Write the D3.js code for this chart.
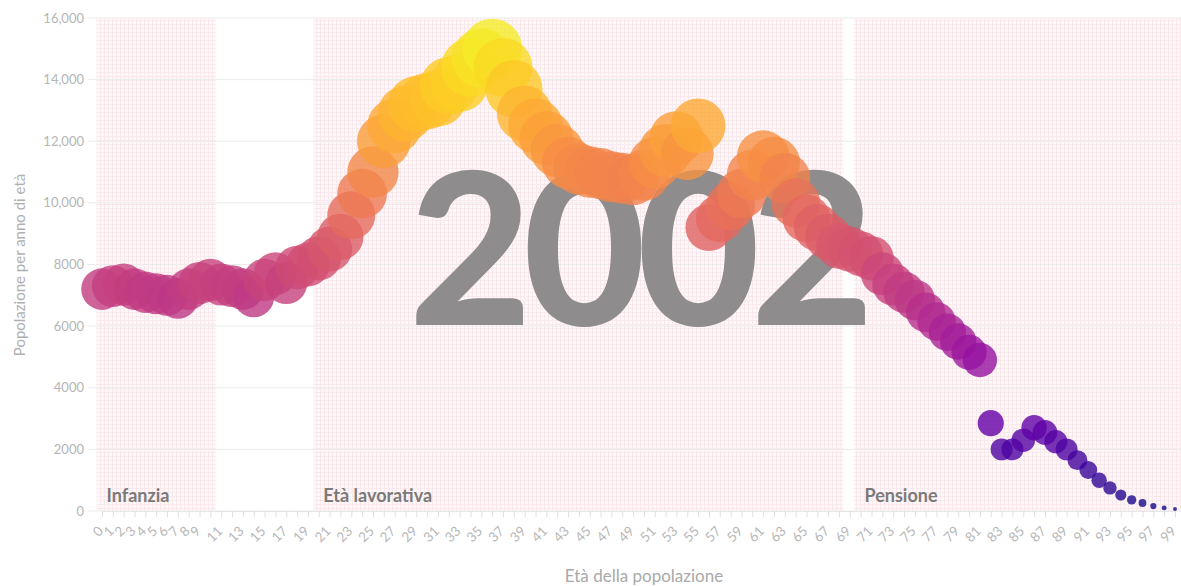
<!DOCTYPE html>
<html>
<head>
<meta charset="utf-8">
<script src="https://cdn.jsdelivr.net/npm/d3@7"></script>
<style>
  html, body { margin: 0; padding: 0; background: #fff; }
  svg { display: block; font-family: Lato, "Open Sans", sans-serif; }
</style>
</head>
<body>
<svg id="chart" width="1181" height="586"></svg>
<script>
// ---- data ----
const ages = d3.range(0, 100);
const population = [
  7200, 7300, 7350, 7200, 7100, 7050, 7000, 6900, 7200, 7400,
  7500, 7350, 7300, 7200, 6950, 7500, 7700, 7400, 7900, 8000,
  8200, 8500, 8900, 9600, 10300, 11000, 12000, 12500, 12900, 13200,
  13300, 13400, 13800, 13900, 14400, 14700, 15000, 14400, 13700, 12900,
  12500, 12100, 11700, 11300, 11100, 11000, 10950, 10850, 10800, 10750,
  10900, 11300, 11700, 12100, 11600, 12500, 9200, 9500, 9900, 10300,
  10900, 11500, 11300, 10800, 10000, 9500, 9200, 8900, 8600, 8500,
  8350, 8200, 7700, 7350, 7100, 6850, 6450, 6150, 5800, 5500,
  5150, 4900, 2850, 2000, 2000, 2300, 2700, 2550, 2250, 2000,
  1650, 1330, 1000, 750, 520, 360, 260, 160, 100, 65
];
const yearLabel = "2002";
const yTickValues = [0, 2000, 4000, 6000, 8000, 10000, 12000, 14000, 16000];
const yTickLabels = ["0", "2000", "4000", "6000", "8000", "10,000", "12,000", "14,000", "16,000"];
const xTickLabelAges = [0,1,2,3,4,5,6,7,8,9].concat(d3.range(11, 100, 2));
const groupNames = ["Infanzia", "Età lavorativa", "Pensione"];
const groupStart = [0, 20, 69];
const groupEnd = [10, 68, 99];
const xTitle = "Età della popolazione";
const yTitle = "Popolazione per anno di età";

// ---- layout ----
const W = 1181, H = 586;
const svg = d3.select("#chart");
const x = d3.scalePoint().domain(ages).range([102, 1175]);
const step = x.step();
const y = d3.scaleLinear().domain([0, 16000]).range([511, 18]);
const r = d3.scaleSqrt().domain([0, 16000]).range([0, 31]);
const color = d3.scaleSequential(d3.interpolatePlasma).domain([0, 15500]);

// pattern
const defs = svg.append("defs");
const pat = defs.append("pattern")
  .attr("id", "grid").attr("width", 4).attr("height", 4)
  .attr("patternUnits", "userSpaceOnUse");
pat.append("rect").attr("width", 4).attr("height", 4).attr("fill", "#fef8f9");
pat.append("rect").attr("width", 4).attr("height", 1).attr("fill", "#fae9ec");
pat.append("rect").attr("width", 1).attr("height", 4).attr("fill", "#fae9ec");

// group bands
const bands = svg.append("g");
groupNames.forEach((name, i) => {
  let x0 = x(groupStart[i]) - step / 2;
  let x1 = x(groupEnd[i]) + step / 2;
  if (i === 1) x1 -= 1;
  if (i === 2) x0 += 10;
  if (i === 2) x1 = W;
  bands.append("rect")
    .attr("x", x0).attr("y", y(16000))
    .attr("width", x1 - x0).attr("height", y(0) - y(16000))
    .attr("fill", "url(#grid)");
  bands.append("text")
    .attr("x", x0 + 10).attr("y", 502)
    .attr("font-size", 18).attr("font-weight", 700)
    .attr("fill", "#7a7a7a")
    .text(name);
});

// y grid & labels
const yg = svg.append("g");
yTickValues.forEach((v, i) => {
  yg.append("line")
    .attr("x1", 88).attr("x2", W)
    .attr("y1", y(v)).attr("y2", y(v))
    .attr("stroke", "#ebebeb").attr("stroke-width", 1);
  yg.append("text")
    .attr("x", 84).attr("y", y(v)).attr("dy", "0.35em")
    .attr("text-anchor", "end")
    .attr("font-size", 13).attr("fill", "#b5b5b5")
    .text(yTickLabels[i]);
});

// x axis
const xAxis = d3.axisBottom(x).tickSize(6).tickFormat("");
const xg = svg.append("g").attr("transform", "translate(0,511)").call(xAxis);
xg.select(".domain").attr("stroke", "#e6e6e6");
xg.selectAll(".tick line").attr("stroke", "#e0e0e0");
const xl = svg.append("g");
xTickLabelAges.forEach(a => {
  xl.append("text")
    .attr("transform", `translate(${x(a) + 2},${532}) rotate(-45)`)
    .attr("text-anchor", "end")
    .attr("font-size", 13.5).attr("fill", "#b8b8b8")
    .text(a);
});

// big year
svg.append("text")
  .attr("x", 637).attr("y", 325)
  .attr("text-anchor", "middle")
  .attr("font-size", 212).attr("font-weight", 900)
  .attr("letter-spacing", -9)
  .attr("fill", "#8e8c8d")
  .text(yearLabel);

// bubbles
svg.append("g").selectAll("circle")
  .data(ages)
  .join("circle")
  .attr("cx", a => x(a))
  .attr("cy", a => y(population[a]))
  .attr("r", a => r(population[a]))
  .attr("fill", a => color(population[a]))
  .attr("fill-opacity", 0.8);

// titles
svg.append("text")
  .attr("x", 644).attr("y", 582)
  .attr("text-anchor", "middle")
  .attr("font-size", 17).attr("fill", "#a9a9a9")
  .text(xTitle);
svg.append("text")
  .attr("transform", "translate(25,265) rotate(-90)")
  .attr("text-anchor", "middle")
  .attr("font-size", 15).attr("fill", "#b0b0b0")
  .text(yTitle);
</script>
</body>
</html>
